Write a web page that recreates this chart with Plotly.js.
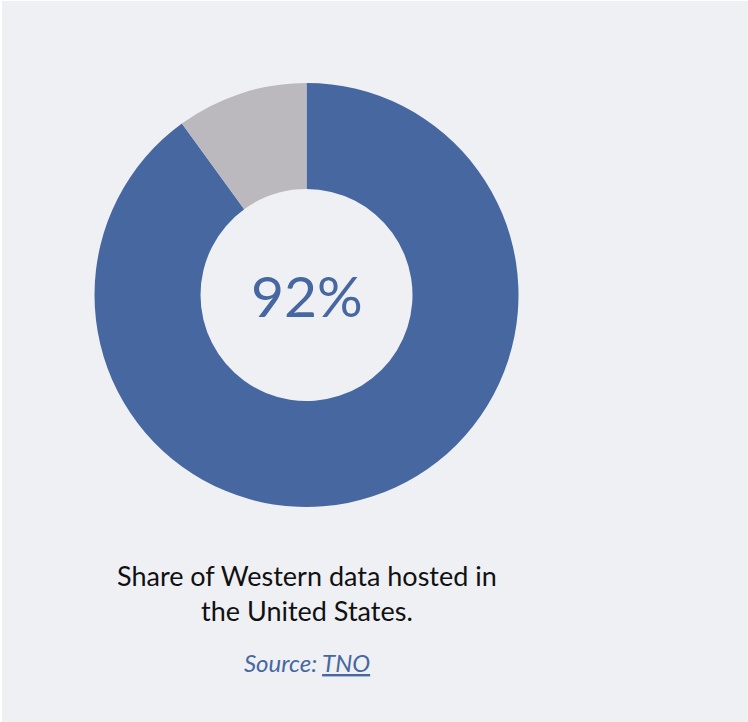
<!DOCTYPE html>
<html>
<head>
<meta charset="utf-8">
<script src="https://cdn.plot.ly/plotly-3.0.1.min.js"></script>
<style>
  html, body { margin: 0; padding: 0; background: #ffffff; overflow: hidden; }
  #chart { margin-left: 2px; margin-top: 1px; width: 748px; height: 722px; }
</style>
</head>
<body>
<div id="chart"></div>
<script>
// Data
const labels = ["Hosted in the United States", "Hosted elsewhere"];
const values = [90, 10];
const centerLabel = "92%";
const caption = "Share of Western data hosted in<br>the United States.";
const sourceLabel = "Source: ";
const sourceName = "TNO";

const W = 748, H = 722;
const cx = 304.5, cy = 294, R = 212;

const blue = "#4767a1";
const grey = "#bbb9be";
const bg = "#eff0f4";

const trace = {
  type: "pie",
  labels: labels,
  values: values,
  hole: 0.5,
  sort: false,
  direction: "clockwise",
  rotation: 0,
  textinfo: "none",
  hoverinfo: "none",
  showlegend: false,
  marker: { colors: [blue, grey], line: { width: 0 } },
  domain: {
    x: [(cx - R) / W, (cx + R) / W],
    y: [1 - (cy + R) / H, 1 - (cy - R) / H]
  }
};

const layout = {
  width: W, height: H,
  margin: { l: 0, r: 0, t: 0, b: 0 },
  paper_bgcolor: bg,
  plot_bgcolor: bg,
  showlegend: false,
  annotations: [
    {
      text: centerLabel, x: cx / W, y: 1 - cy / H, xref: "paper", yref: "paper",
      showarrow: false, xanchor: "center", yanchor: "middle",
      font: { family: "Lato, sans-serif", size: 57, color: blue }
    },
    {
      text: caption, x: cx / W, y: 1 - 592 / H, xref: "paper", yref: "paper",
      showarrow: false, xanchor: "center", yanchor: "middle", align: "center",
      font: { family: "Lato, sans-serif", size: 27, color: "#111111" }
    },
    {
      text: "<i>" + sourceLabel + "<span style=\"text-decoration:underline\">" + sourceName + "</span></i>",
      x: cx / W, y: 1 - 661 / H, xref: "paper", yref: "paper",
      showarrow: false, xanchor: "center", yanchor: "middle",
      font: { family: "Lato, sans-serif", size: 24, color: blue }
    }
  ]
};

Plotly.newPlot("chart", [trace], layout, { displayModeBar: false, staticPlot: true });
</script>
</body>
</html>
